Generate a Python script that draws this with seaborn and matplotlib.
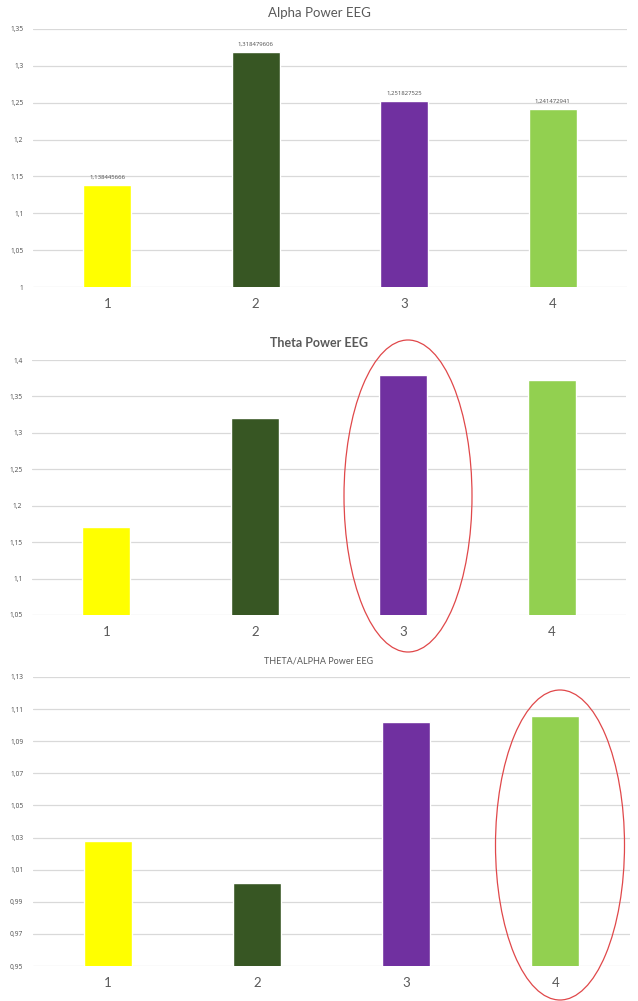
import numpy as np
import pandas as pd
import matplotlib
matplotlib.use("Agg")
import matplotlib.pyplot as plt
import seaborn as sns
from matplotlib.patches import Ellipse
from matplotlib.ticker import FuncFormatter

# Veriler
conditions = ["1", "2", "3", "4"]
alpha_power = [1.138445666, 1.318479606, 1.251827525, 1.241472941]
theta_power = [1.171, 1.320, 1.379, 1.372]
theta_alpha = [1.028, 1.002, 1.102, 1.106]
bar_colors = ["#FFFF00", "#375623", "#7030A0", "#92D050"]

W, H = 638, 1001
TEXT = "#595959"
GRID = "#D9D9D9"
SMALL_FONT = ["Noto Sans", "DejaVu Sans"]

sns.set_theme(style="white")
plt.rcParams["font.family"] = ["Lato", "DejaVu Sans"]


def comma_fmt(v, pos=None):
    return f"{round(v, 3):g}".replace(".", ",")


def px_axes(fig, x0, y_top, x1, y_bot):
    """Piksel koordinatlarından eksen oluşturur"""
    return fig.add_axes([x0 / W, 1 - y_bot / H, (x1 - x0) / W, (y_bot - y_top) / H])


def draw_bars(ax, values, ymin, ymax, step, title, title_size, title_weight, title_y):
    df = pd.DataFrame({"cond": conditions, "value": values})
    sns.barplot(data=df, x="cond", y="value", hue="cond", palette=bar_colors,
                width=0.32, legend=False, ax=ax, saturation=1)
    ax.set_ylim(ymin, ymax)
    ax.set_xlim(-0.5, 3.5)
    ax.set_yticks(np.arange(ymin, ymax + step / 2, step))
    ax.yaxis.set_major_formatter(FuncFormatter(comma_fmt))
    ax.yaxis.grid(True, color=GRID, linewidth=0.9)
    ax.set_axisbelow(True)
    for s in ax.spines.values():
        s.set_visible(False)
    ax.tick_params(axis="y", length=0, pad=7, labelsize=4.8, labelcolor=TEXT)
    for lab in ax.get_yticklabels():
        lab.set_family(SMALL_FONT)
    ax.tick_params(axis="x", length=0, pad=8, labelsize=9.5, labelcolor=TEXT)
    ax.set_xlabel("")
    ax.set_ylabel("")
    fig.text(0.5, 1 - title_y / H, title, ha="center", va="center",
             fontsize=title_size, color=TEXT, fontweight=title_weight)


fig = plt.figure(figsize=(W / 100, H / 100), dpi=100)
fig.patch.set_facecolor("white")

# 1. Alpha
ax1 = px_axes(fig, 33, 29, 627, 287)
draw_bars(ax1, alpha_power, 1.0, 1.35, 0.05, "Alpha Power EEG", 9.5, "normal", 13)
for i, v in enumerate(alpha_power):
    ax1.annotate(f"{v:.9f}".replace(".", ","), (i, v), xytext=(0, 4),
                 textcoords="offset points", ha="center", va="bottom",
                 fontsize=4.3, color=TEXT, family=SMALL_FONT)

# 2. Theta
ax2 = px_axes(fig, 32, 360, 626, 615)
draw_bars(ax2, theta_power, 1.05, 1.40, 0.05, "Theta Power EEG", 9, "bold", 343)

# 3. Theta/Alpha
ax3 = px_axes(fig, 33, 677, 630, 966)
draw_bars(ax3, theta_alpha, 0.95, 1.13, 0.02, "THETA/ALPHA Power EEG", 6.5, "normal", 661)

# Kırmızı elipsler
for cx, cy, ew, eh in [(408, 496, 128, 312), (560, 845, 129, 310)]:
    fig.add_artist(Ellipse((cx / W, 1 - cy / H), ew / W, eh / H,
                           transform=fig.transFigure, fill=False,
                           edgecolor="#E0484A", linewidth=0.9))

fig.savefig("out.png", dpi=100, facecolor="white")
